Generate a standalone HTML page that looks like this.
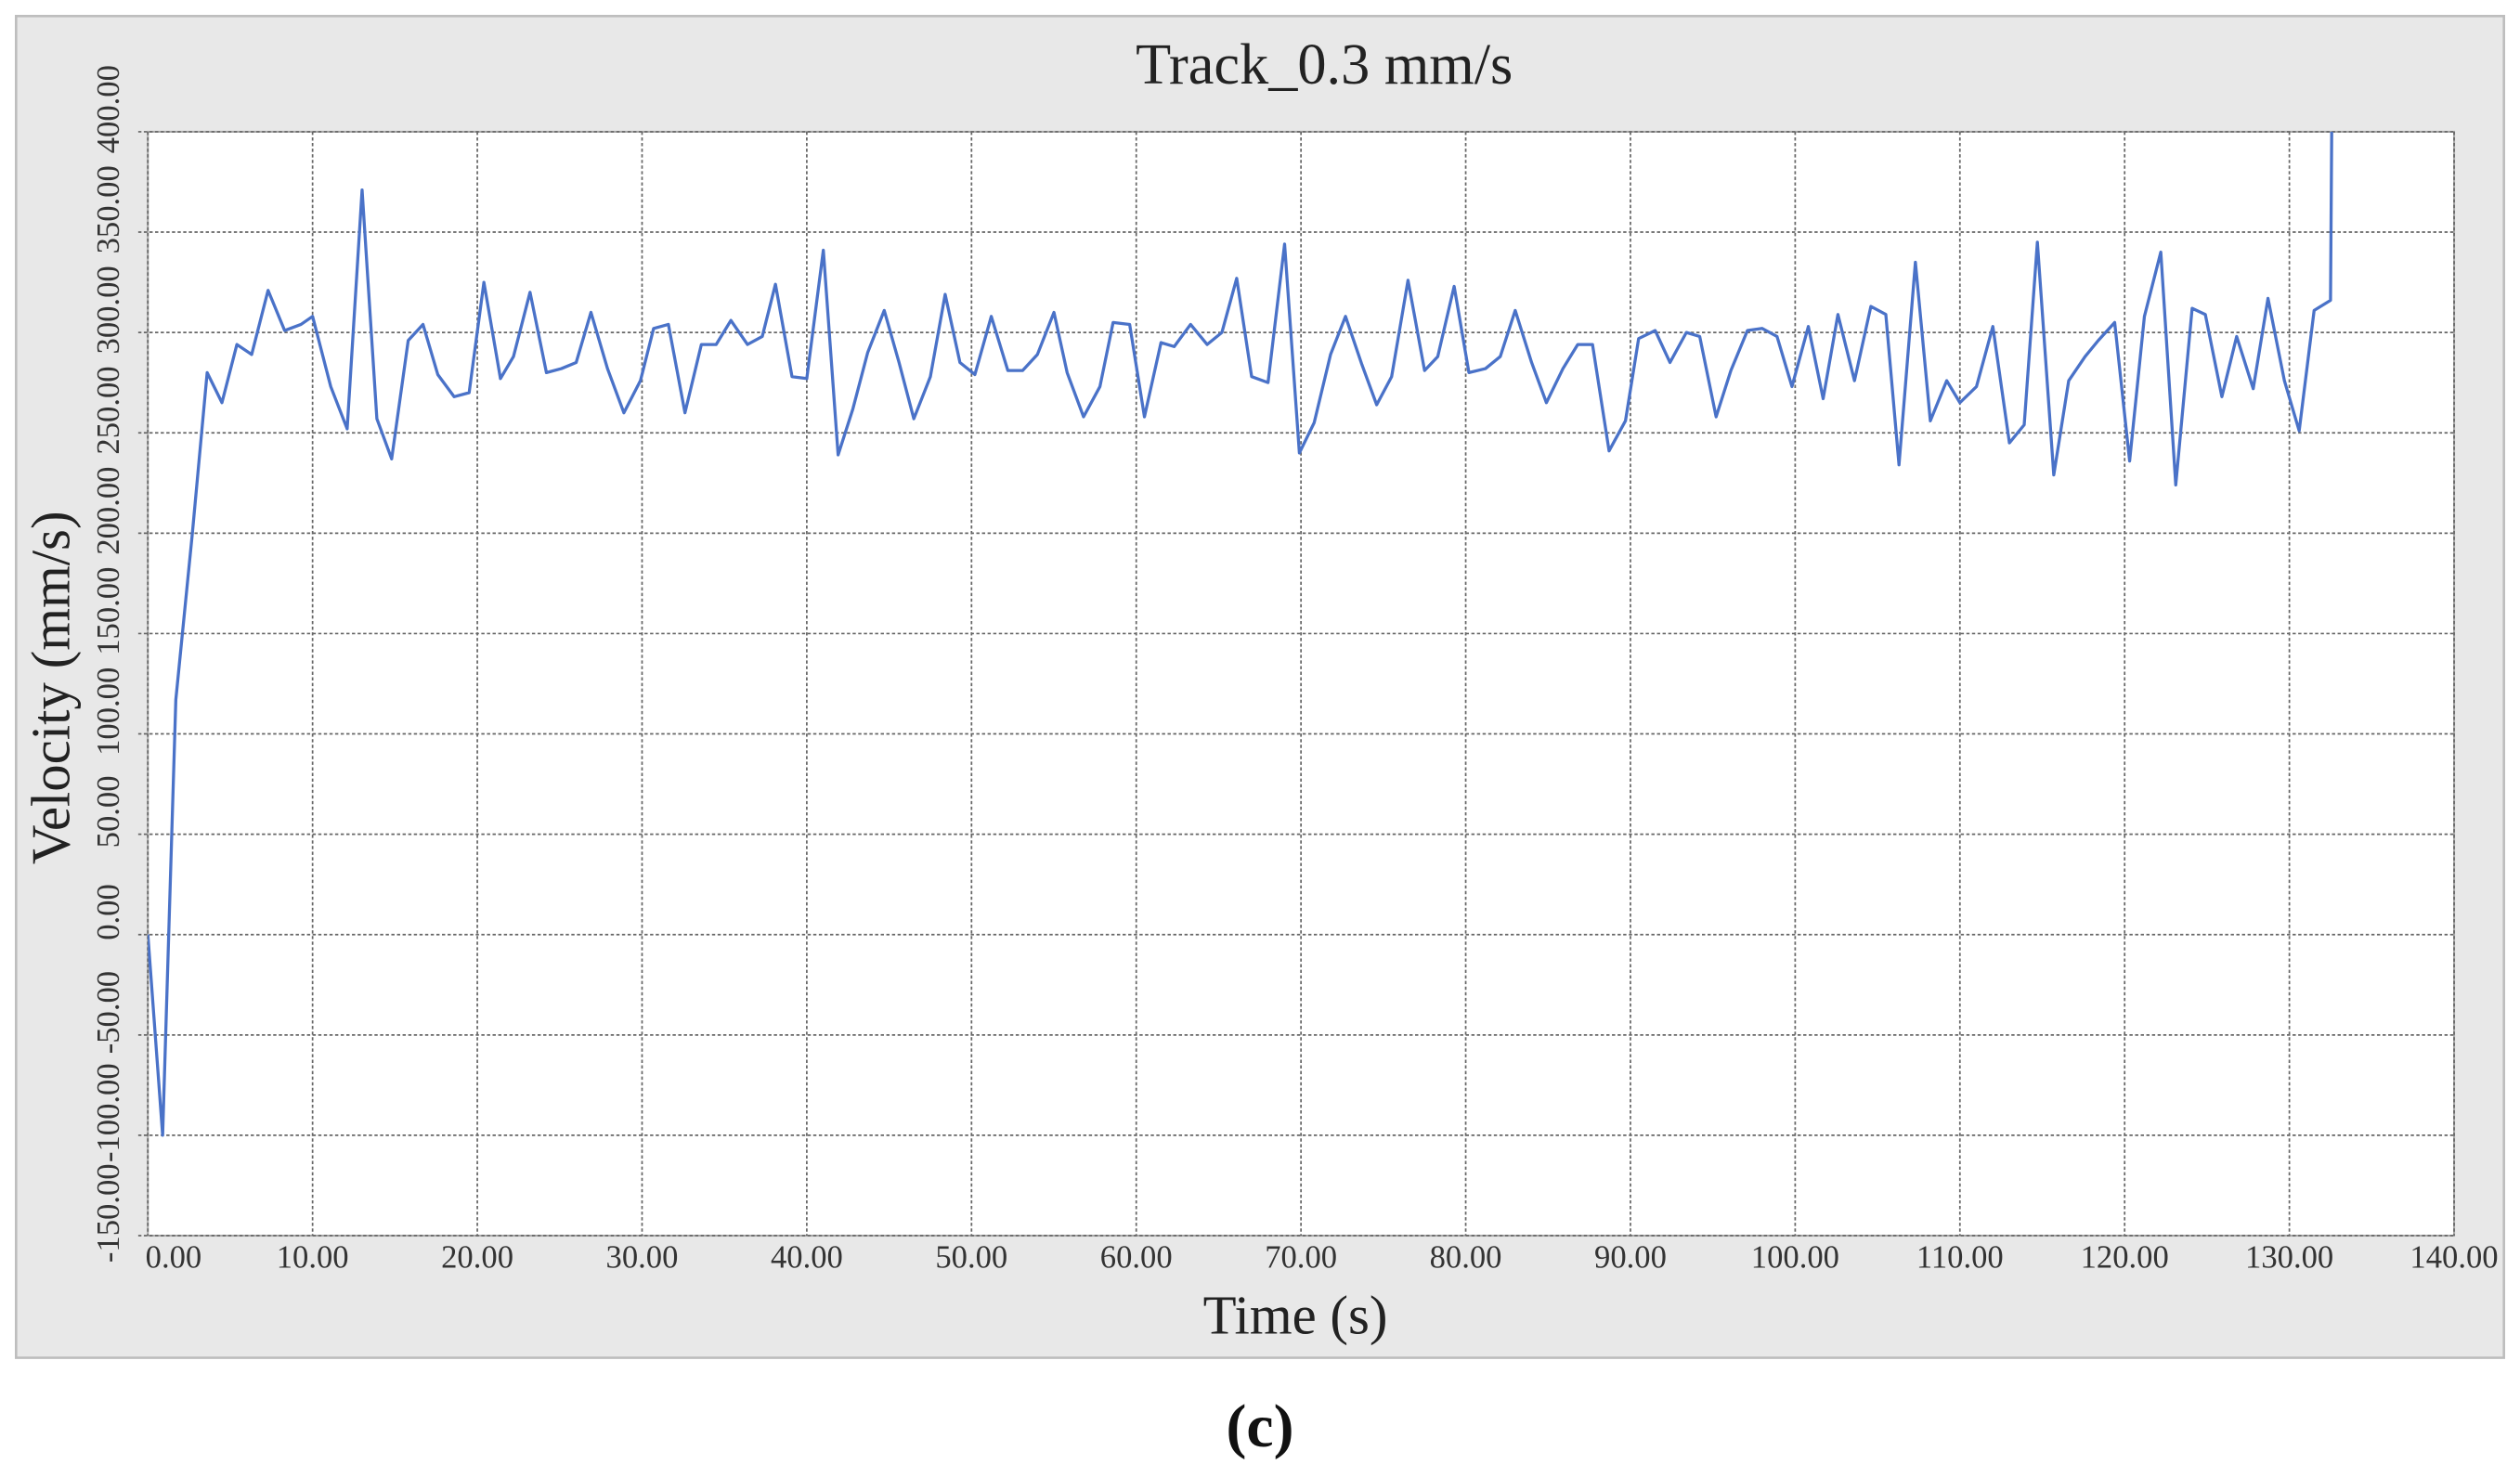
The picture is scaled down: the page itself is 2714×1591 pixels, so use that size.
<!DOCTYPE html>
<html><head><meta charset="utf-8"><style>html,body{margin:0;padding:0;background:#fff}svg{display:block}</style></head>
<body>
<svg id="chart" width="2714" height="1591" viewBox="0 0 1568 919.2" preserveAspectRatio="none" xmlns="http://www.w3.org/2000/svg" font-family="'Liberation Serif', serif">
<rect x="10" y="10" width="1548" height="835" fill="#e8e8e8" stroke="#bdbdbd" stroke-width="1.5"/>
<defs><clipPath id="pc"><rect x="92" y="82" width="1435" height="687"/></clipPath></defs>
<rect x="92" y="82" width="1435" height="687" fill="#fff" stroke="#aaa" stroke-width="1.2"/>
<g id="grid"></g>
<g id="ticks"></g>
<g clip-path="url(#pc)"><path id="line" fill="none" stroke="#4a72c8" stroke-width="1.9" stroke-linejoin="round"/></g>
<text x="824" y="52" font-size="36" text-anchor="middle" fill="#222">Track_0.3 mm/s</text>
<text x="806" y="830" font-size="34" text-anchor="middle" fill="#222">Time (s)</text>
<text transform="translate(43,428) rotate(-90)" font-size="34" text-anchor="middle" fill="#222">Velocity (mm/s)</text>
<text x="784" y="900" font-size="38" font-weight="bold" text-anchor="middle" fill="#111">(c)</text>
</svg>
<script>
const xTicks=[0,10,20,30,40,50,60,70,80,90,100,110,120,130,140];
const yTicks=[-150,-100,-50,0,50,100,150,200,250,300,350,400];
const times=[0,0.9,1.7,2.7,3.6,4.5,5.4,6.3,7.3,8.3,9.3,10.0,11.1,12.1,13.0,13.9,14.8,15.8,16.7,17.6,18.6,19.5,20.4,21.4,22.2,23.2,24.2,25.1,26.0,26.9,27.9,28.9,29.9,30.7,31.6,32.6,33.6,34.5,35.4,36.4,37.3,38.1,39.1,40.0,41.0,41.9,42.8,43.7,44.7,45.6,46.5,47.5,48.4,49.3,50.2,51.2,52.2,53.1,54.0,55.0,55.8,56.8,57.8,58.6,59.6,60.5,61.5,62.3,63.3,64.3,65.2,66.1,67.0,68.0,69.0,69.9,70.8,71.8,72.7,73.7,74.6,75.5,76.5,77.5,78.3,79.3,80.2,81.2,82.1,83.0,84.0,84.9,85.9,86.8,87.7,88.7,89.7,90.5,91.5,92.4,93.4,94.2,95.2,96.1,97.1,98.0,98.9,99.8,100.8,101.7,102.6,103.6,104.6,105.5,106.3,107.3,108.2,109.2,110.0,111.0,112.0,113.0,113.9,114.7,115.7,116.6,117.6,118.4,119.4,120.3,121.2,122.2,123.1,124.1,124.9,125.9,126.8,127.8,128.7,129.7,130.6,131.5,132.5,132.6];
const velocity=[0,-100,117,200,280,265,294,289,321,301,304,308,273,252,371,257,237,296,304,279,268,270,325,277,288,320,280,282,285,310,282,260,276,302,304,260,294,294,306,294,298,324,278,277,341,239,262,290,311,285,257,278,319,285,279,308,281,281,289,310,280,258,273,305,304,258,295,293,304,294,300,327,278,275,344,240,255,289,308,284,264,278,326,281,288,323,280,282,288,311,285,265,282,294,294,241,256,297,301,285,300,298,258,281,301,302,298,273,303,267,309,276,313,309,234,335,256,276,265,273,303,245,254,345,229,276,288,296,305,236,308,340,224,312,309,268,298,272,317,276,251,311,316,430];
const X0=92,X1=1527,Y0=769,Y1=82;
const xs=v=>X0+(v-0)/(140-0)*(X1-X0);
const ys=v=>Y0-(v+150)/(550)*(Y0-Y1);
const NS='http://www.w3.org/2000/svg';
const grid=document.getElementById('grid'),ticks=document.getElementById('ticks');
xTicks.forEach(t=>{
  const l=document.createElementNS(NS,'line');
  
  
  l.setAttribute('x1',xs(t));l.setAttribute('x2',xs(t));l.setAttribute('y1',Y1);l.setAttribute('y2',Y0);
  l.setAttribute('stroke','#666');l.setAttribute('stroke-width','1');l.setAttribute('stroke-dasharray','2,1.5');
  grid.appendChild(l);
  const tx=document.createElementNS(NS,'text');
  
  
  tx.setAttribute('x',xs(t)+(t===0?16:0));tx.setAttribute('y',789);
  tx.setAttribute('font-size','20');tx.setAttribute('text-anchor','middle');tx.setAttribute('fill','#333');
  tx.textContent=t.toFixed(2);ticks.appendChild(tx);
});
yTicks.forEach(t=>{
  const l=document.createElementNS(NS,'line');
  
  
  l.setAttribute('x1',X0-6);l.setAttribute('x2',X1);l.setAttribute('y1',ys(t));l.setAttribute('y2',ys(t));
  l.setAttribute('stroke','#666');l.setAttribute('stroke-width','1');l.setAttribute('stroke-dasharray','2,1.5');
  grid.appendChild(l);
  const tx=document.createElementNS(NS,'text');
  
  
  const cy=ys(t)-14;
  tx.setAttribute('transform','translate(74,'+cy+') rotate(-90)');
  tx.setAttribute('font-size','20');tx.setAttribute('text-anchor','middle');tx.setAttribute('fill','#333');
  tx.textContent=t.toFixed(2);ticks.appendChild(tx);
});
document.getElementById('line').setAttribute('d',times.map((t,i)=>(i?'L':'M')+xs(t).toFixed(1)+','+ys(velocity[i]).toFixed(1)).join(''));
</script>
</body></html>
